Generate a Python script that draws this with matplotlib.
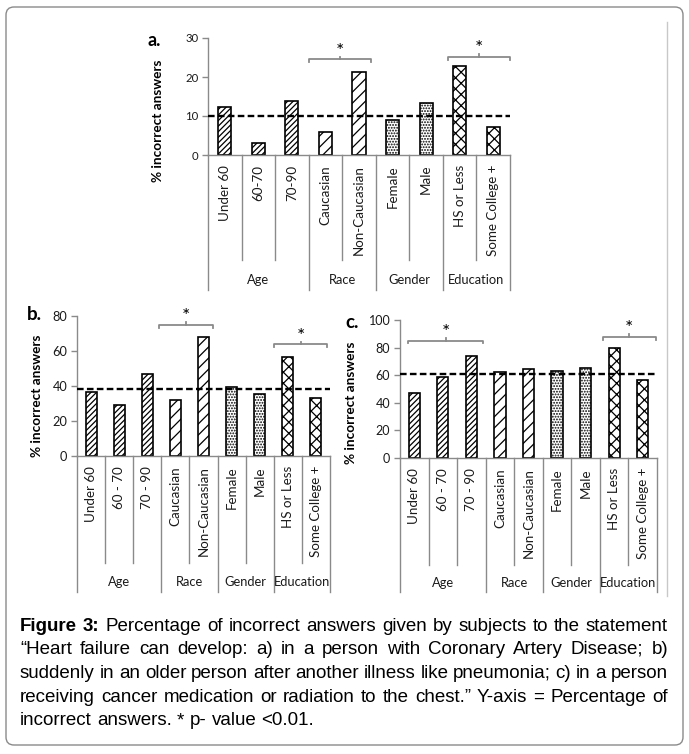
import matplotlib
matplotlib.use('Agg')
import matplotlib.pyplot as plt
from matplotlib import font_manager
from matplotlib.patches import FancyBboxPatch
from matplotlib.lines import Line2D
from matplotlib.transforms import IdentityTransform, blended_transform_factory

# ---------------- data ----------------
categories_a = ["Under 60", "60-70", "70-90", "Caucasian", "Non-Caucasian",
                "Female", "Male", "HS or Less", "Some College +"]
categories_bc = ["Under 60", "60 - 70", "70 - 90", "Caucasian", "Non-Caucasian",
                 "Female", "Male", "HS or Less", "Some College +"]
groups = ["Age", "Race", "Gender", "Education"]
group_sizes = [3, 2, 2, 2]

values_a = [12.2, 3.0, 13.8, 5.8, 21.4, 8.9, 13.3, 22.9, 7.1]
values_b = [36.6, 29.0, 46.7, 32.2, 68.0, 39.4, 35.2, 56.6, 33.3]
values_c = [47.0, 59.0, 74.2, 62.4, 64.6, 63.1, 65.5, 79.5, 56.6]

overall_a = 10.0
overall_b = 38.1
overall_c = 61.2

yticks_a = [0, 10, 20, 30]
yticks_b = [0, 20, 40, 60, 80]
yticks_c = [0, 20, 40, 60, 80, 100]

# significance brackets: (x start, x end, y)
brackets_a = [(2.5, 4.35, 24.5), (6.65, 8.5, 25.1)]
brackets_b = [(2.43, 4.35, 74.9), (6.51, 8.4, 63.8)]
brackets_c = [(-0.21, 2.42, 85.0), (6.6, 8.46, 87.5)]

caption_lines = [
    "Figure 3: Percentage of incorrect answers given by subjects to the statement",
    "\u201cHeart failure can develop: a) in a person with Coronary Artery Disease; b)",
    "suddenly in an older person after another illness like pneumonia; c) in a person",
    "receiving cancer medication or radiation to the chest.\u201d Y-axis = Percentage of",
    "incorrect answers. * p- value <0.01.",
]

# ---------------- style ----------------
W, H = 689, 754
plt.rcParams['font.family'] = ['Lato', 'DejaVu Sans']
plt.rcParams['hatch.linewidth'] = 0.9
GREY = '#8a8a8a'
hatches = ['//////', '///', '......', 'xxx']

names = {f.name for f in font_manager.fontManager.ttflist}
cap_family = 'Liberation Sans Narrow' if 'Liberation Sans Narrow' in names else 'Liberation Sans'

fig = plt.figure(figsize=(W / 100, H / 100), dpi=100)


def fx(px):
    return px / W


def fy(py):
    return 1 - py / H


def make_panel(rect_px, values, cats, overall, yticks, brackets, letter,
               letter_xy, ylabel_x, ylabel_y, ticksize, short_end, long_end,
               label_top, group_y, bracket_h, star_off):
    left, top, right, bottom = rect_px
    ax = fig.add_axes([fx(left), fy(bottom), fx(right) - fx(left), fy(top) - fy(bottom)])
    bar_hatch = []
    for h, n in zip(hatches, group_sizes):
        bar_hatch += [h] * n
    xs = list(range(len(values)))
    for x, v, h in zip(xs, values, bar_hatch):
        ax.bar(x, v, width=0.39, color='white', edgecolor='black', linewidth=1.2,
               hatch=h, zorder=2)
    ax.axhline(overall, color='black', lw=1.7, ls=(0, (2.8, 1.4)), zorder=3)
    ax.set_xlim(-0.5, len(values) - 0.5)
    ax.set_ylim(yticks[0], yticks[-1])
    ax.set_yticks(yticks)
    ax.set_yticklabels([str(t) for t in yticks], fontsize=ticksize, color='#1a1a1a')
    ax.tick_params(axis='y', length=4, width=1, color=GREY, pad=3)
    ax.set_xticks([])
    for s in ['top', 'right']:
        ax.spines[s].set_visible(False)
    for s in ['left', 'bottom']:
        ax.spines[s].set_color(GREY)
        ax.spines[s].set_linewidth(1.0)
    tr = blended_transform_factory(ax.transData, fig.transFigure)
    # separators
    bounds_long = [-0.5]
    acc = -0.5
    for n in group_sizes:
        acc += n
        bounds_long.append(acc)
    for i in range(len(values) + 1):
        b = i - 0.5
        end = long_end if b in bounds_long else short_end
        ax.add_line(Line2D([b, b], [fy(bottom), fy(end)], transform=tr, color=GREY,
                           lw=1.0, clip_on=False))
    # category labels
    for x, c in zip(xs, cats):
        ax.text(x, fy(label_top), c, rotation=90, ha='center', va='top',
                fontsize=9.6, color='#1a1a1a', transform=tr)
    # group labels
    start = 0
    for g, n in zip(groups, group_sizes):
        centre = start + (n - 1) / 2
        ax.text(centre, fy(group_y), g, ha='center', va='center', fontsize=9.3,
                color='#1a1a1a', transform=tr)
        start += n
    # brackets
    for x0, x1, y in brackets:
        xm = (x0 + x1) / 2
        ax.plot([x0, x0, x1, x1], [y - bracket_h, y, y, y - bracket_h], color=GREY,
                lw=1.3, clip_on=False, zorder=4)
        ax.plot([xm, xm], [y, y + bracket_h], color=GREY, lw=1.3, clip_on=False, zorder=4)
        ax.annotate('*', (xm, y), xytext=(0, star_off), textcoords='offset points',
                    ha='center', va='center', fontsize=14, color='black')
    # y label and panel letter
    fig.text(fx(ylabel_x), fy(ylabel_y), '% incorrect answers', rotation=90,
             ha='center', va='center', fontsize=9.8, fontweight='bold', color='black')
    fig.text(fx(letter_xy[0]), fy(letter_xy[1]), letter, ha='left', va='center',
             fontsize=letter_xy[2], fontweight='bold', color='black')
    return ax


make_panel((208, 38, 510, 155), values_a, categories_a, overall_a, yticks_a, brackets_a,
           'a.', (147, 41, 13), 158, 121, 8.2, 260, 290, 165, 280, 0.7, 6)
make_panel((77, 316, 330, 456), values_b, categories_bc, overall_b, yticks_b, brackets_b,
           'b.', (27, 314, 13.5), 37, 396, 9.2, 563, 592, 466, 582, 1.6, 6)
make_panel((400, 320, 657, 458), values_c, categories_bc, overall_c, yticks_c, brackets_c,
           'c.', (345, 323, 13.5), 351, 403, 9.0, 565, 592, 468, 583, 2.0, 6)

# outer rounded frame and faint divider
frame = FancyBboxPatch((6, H - 745), 677, 738, boxstyle="round,pad=0,rounding_size=8",
                       transform=IdentityTransform(), facecolor='none', edgecolor=GREY,
                       lw=1.0)
fig.add_artist(frame)
fig.add_artist(Line2D([fx(667), fx(667)], [fy(22), fy(596)], transform=fig.transFigure,
                      color='#c8c8c8', lw=1.0))

# ---------------- caption (justified) ----------------
renderer = fig.canvas.get_renderer()
x_left, x_right = 20, 668

# choose font size so the first line fits its width with ordinary spaces
probe = fig.text(0, 0, caption_lines[0], fontsize=10, family=cap_family)
probe_w = probe.get_window_extent(renderer).width
probe.remove()
cap_size = 10 * (x_right - x_left) / probe_w * 0.985

baselines = [631, 654, 678, 702, 725]
for li, (line, base) in enumerate(zip(caption_lines, baselines)):
    words = line.split(' ')
    texts, widths = [], []
    for wi, w in enumerate(words):
        bold = (li == 0 and wi < 2)
        t = fig.text(0, fy(base), w, fontsize=cap_size, family=cap_family,
                     fontweight='bold' if bold else 'normal', va='baseline', ha='left',
                     color='black')
        widths.append(t.get_window_extent(renderer).width)
        texts.append(t)
    if li < len(caption_lines) - 1:
        gap = (x_right - x_left - sum(widths)) / (len(words) - 1)
    else:
        gap = cap_size * 100 / 72 * 0.278
    x = x_left
    for t, w in zip(texts, widths):
        t.set_x(fx(x))
        x += w + gap

fig.savefig('out.png', dpi=100)
